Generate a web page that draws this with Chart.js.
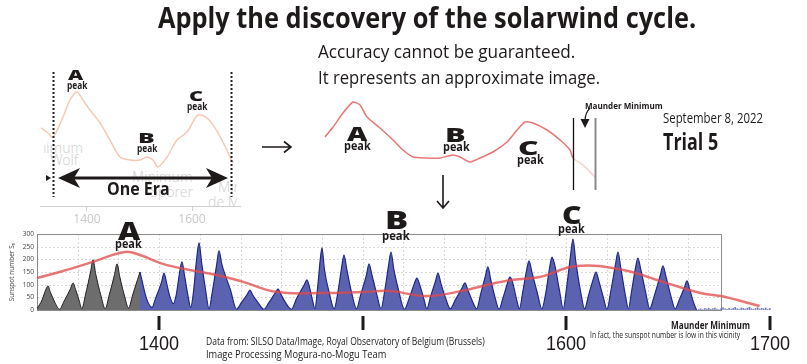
<!DOCTYPE html>
<html>
<head>
<meta charset="utf-8">
<script src="https://cdn.jsdelivr.net/npm/chart.js@4"></script>
<style>
  body { margin: 0; width: 807px; height: 364px; position: relative; overflow: hidden; background: #fff; color: #1e1a1a; font-family: "Open Sans", sans-serif; }
  canvas { position: absolute; }
  .t { position: absolute; white-space: nowrap; line-height: 1; transform-origin: left top; }
  #faint { position: absolute; left: 44px; top: 130px; width: 193px; height: 80px; overflow: hidden; }
  #faint div { position: absolute; white-space: nowrap; line-height: 1; color: #d3d3d3; font-size: 14px; font-family: "Noto Sans", sans-serif; font-weight: 300; }
  svg { position: absolute; left: 0; top: 0; }
</style>
</head>
<body>
<div id="faint">
  <div style="right:154px; top:10.6px">Minimum</div>
  <div style="left:6px; top:22.6px">Wolf</div>
  <div style="left:88px; top:39.6px">Minimum</div>
  <div style="right:44px; top:54.6px">Spörer</div>
  <div style="left:174px; top:49.6px">Minimum</div>
  <div style="left:164px; top:64.6px">de Maunder</div>
</div>
<canvas id="eraChart" width="215" height="170" style="left:30px; top:60px"></canvas>
<canvas id="windChart" width="290" height="110" style="left:315px; top:90px"></canvas>
<canvas id="sunChart" width="807" height="139" style="left:0; top:225px"></canvas>
<svg width="807" height="364">
  <g stroke="#1e1a1a" fill="none" stroke-width="1.6">
    <path d="M262 147 H291 M284 141.5 L291 147 L284 152.5"/>
    <path d="M443 175 V208 M437 201 L443 208 L449 201"/>
    <path d="M62 178 H224" stroke-width="3"/>
    <path d="M590 108 Q585 113 585 121" stroke-width="1.2"/>
  </g>
  <g fill="#1e1a1a">
    <path d="M58 178 L80 168 L74 178 L80 188 Z"/>
    <path d="M228 178 L206 168 L212 178 L206 188 Z"/>
    <path d="M46 175 L51 178 L46 181 Z"/>
    <path d="M580.5 119 L585 128 L589.5 119 Z"/>
  </g>
</svg>
<script>
// bottom panel: sunspot number
const greyYears = [
  1340, 1342.5, 1344.2, 1345.4, 1346.6, 1348.8,
  1351, 1353.3, 1356.5, 1357.7, 1359, 1360.8,
  1362, 1363.8, 1366.3, 1367.5, 1368.9, 1371.3,
  1373.5, 1375.5, 1378.1, 1379.3, 1380.7, 1383,
  1385, 1387, 1389.4, 1390.6
];
const greyValues = [
  5, 40, 78, 95, 70, 30,
  3, 35, 85, 107, 80, 35,
  5, 60, 150, 198, 140, 60,
  5, 60, 140, 182, 130, 55,
  8, 60, 120, 150
];

const blueYears = [
  1390.6, 1391.9, 1393.6,
  1396.5, 1398.2, 1401.2, 1402.4, 1403.7, 1405.4,
  1407, 1408.4, 1410, 1411.2, 1412.5, 1414.2,
  1415.5, 1417, 1418.4, 1419.6, 1420.9, 1422.8,
  1424.5, 1426.2, 1428.2, 1429.4, 1430.8, 1432.8, 1435,
  1438, 1440.5, 1443.3, 1444.6, 1445.9, 1448.5,
  1451.5, 1454, 1457.1, 1458.4, 1459.8, 1462,
  1465, 1467.5, 1471.3, 1472.6, 1474, 1475.3,
  1476.5, 1478, 1479.1, 1480, 1481.2, 1483.5,
  1486, 1487.8, 1489.6, 1490.8, 1492.2, 1494.5,
  1497, 1499, 1501.9, 1503.1, 1504.5, 1506.8,
  1509, 1510.8, 1512.7, 1513.9, 1515.3, 1517.7,
  1520.5, 1522.8, 1525.4, 1526.6, 1528, 1530,
  1531.5, 1533.4, 1535.8, 1537, 1538.4, 1540.8,
  1543, 1545.5, 1549, 1550.2, 1551.6, 1553.9,
  1556, 1558, 1560.3, 1561.5, 1562.9, 1565,
  1567, 1569, 1571.1, 1572.3, 1573.6, 1575.5,
  1577, 1578.7, 1580.5, 1581.7, 1583.1, 1585.7,
  1588, 1590, 1591.8, 1593, 1594.4, 1596.6,
  1598.5, 1600.2, 1602.1, 1603.3, 1604.7, 1607,
  1609, 1611, 1613.4, 1614.6, 1616, 1618.2,
  1620, 1621.9, 1624.2, 1625.4, 1626.8, 1629,
  1630.5, 1632.2, 1634, 1635.2, 1636.6, 1639,
  1641, 1643.2, 1646.3, 1647.5, 1648.9, 1651.4,
  1653.5, 1655.5, 1658.1, 1659.3, 1660.7, 1662.5,
  1664
];
const blueValues = [
  150, 105, 50,
  10, 45, 110, 146, 105, 50,
  25, 60, 145, 190, 135, 55,
  10, 80, 200, 265, 185, 80,
  5, 75, 175, 233, 180, 130, 80,
  3, 30, 62, 79, 60, 30,
  3, 30, 68, 83, 62, 30,
  3, 45, 100, 119, 85, 40,
  5, 100, 195, 245, 160, 70,
  5, 70, 165, 217, 160, 70,
  5, 60, 140, 182, 140, 65,
  5, 75, 175, 229, 160, 75,
  3, 45, 105, 126, 100, 45,
  5, 55, 115, 146, 105, 45,
  5, 40, 90, 107, 80, 35,
  5, 65, 135, 170, 120, 50,
  3, 50, 105, 130, 110, 45,
  5, 75, 155, 194, 150, 70,
  5, 70, 165, 209, 175, 80,
  5, 90, 215, 280, 190, 75,
  5, 60, 125, 150, 115, 50,
  3, 75, 180, 229, 165, 60,
  5, 80, 165, 205, 160, 70,
  5, 55, 140, 174, 135, 55,
  5, 40, 90, 115, 80, 30,
  0
];

// smoothed (red) curve
const redYears = [1340, 1352.8, 1367.5, 1383.2, 1390.6, 1401.8, 1415, 1428.4, 1441.2, 1457.9, 1480, 1500, 1513.4, 1531.5, 1551, 1561, 1574, 1587, 1605, 1628, 1649, 1666, 1676, 1695];
const redValues = [126, 154, 190, 229, 217, 182, 158, 138, 111, 71, 67, 71, 75, 55, 79, 99, 119, 130, 174, 158, 107, 67, 55, 16];

// Maunder minimum, the tiny counts
const maunderYears = [1665, 1666, 1667, 1668, 1669, 1670, 1671, 1672, 1673, 1674, 1675, 1676, 1677, 1678, 1679, 1680, 1681, 1682, 1683, 1684, 1685, 1686, 1687, 1688, 1689, 1690, 1691, 1692, 1693, 1694, 1695, 1696, 1697, 1698, 1699, 1700];
const maunderValues = [3, 5, 2, 6, 4, 7, 3, 5, 8, 4, 2, 6, 9, 5, 3, 7, 4, 6, 10, 5, 3, 8, 6, 4, 7, 11, 5, 3, 6, 9, 4, 7, 5, 8, 3, 6];

const axisYears = [1400, 1500, 1600, 1700];
const axisLabels = ['1400', '', '1600', '1700'];

// top left panel: one era (old solar wind picture)
const eraYears = [1312.4, 1323.8, 1335.2, 1354.3, 1367.6, 1381, 1392.4, 1405.7, 1424.8, 1443.8, 1462.9, 1481.9, 1501, 1514.3, 1525.7, 1535.2, 1552.4, 1571.4, 1590.5, 1601.9, 1611.4, 1628.6, 1640, 1657.1, 1672.4, 1678.1];
const eraValues = [57.4, 54.4, 50.7, 65.4, 77.9, 83.8, 77.9, 70.6, 61, 48.5, 36, 33.8, 33.8, 36, 33.8, 28.7, 36, 48.5, 54.4, 61.8, 66.9, 64.7, 59.6, 48.5, 36, 31.6];
const eraTicks = [1400, 1600];
const eraBounds = [1334.7, 1674.3];

// middle panel: approximate solar wind cycle
const windYears = [1343.6, 1354.3, 1367.6, 1381, 1390.4, 1399.7, 1417.1, 1434.5, 1447.9, 1461.2, 1480, 1497.3, 1514.7, 1524.1, 1537.4, 1550.8, 1568.2, 1586.9, 1600.3, 1611, 1621.7, 1640.4, 1657.8, 1671.2, 1675.1, 1688.5, 1704.6];
const windValues = [53, 63, 77, 88, 85, 73, 62, 50, 40, 33, 32, 32, 35, 33, 28, 32, 38, 48, 60, 68, 67, 60, 50, 40, 32, 25, 13];
const maunderBounds = [1675.1, 1704.6];

const pts = (xs, ys) => xs.map((x, i) => ({ x, y: ys[i] }));

Chart.defaults.font.family = '"Open Sans", sans-serif';
Chart.defaults.animation = false;
Chart.defaults.plugins.legend.display = false;
Chart.defaults.plugins.tooltip.enabled = false;
Chart.defaults.events = [];

// ---- top left
const eraLines = {
  id: 'eraLines',
  afterDatasetsDraw(chart) {
    const { ctx, chartArea, scales: { x } } = chart;
    ctx.save();
    ctx.strokeStyle = '#222';
    ctx.lineWidth = 2;
    ctx.setLineDash([2, 2]);
    eraBounds.forEach(v => {
      const px = Math.round(x.getPixelForValue(v)) + 0.5;
      ctx.beginPath();
      ctx.moveTo(px, chartArea.top + 2);
      ctx.lineTo(px, chartArea.bottom - 9);
      ctx.stroke();
    });
    ctx.restore();
  }
};

new Chart(document.getElementById('eraChart'), {
  type: 'line',
  data: {
    datasets: [{
      data: pts(eraYears, eraValues),
      borderColor: '#f6c8b6',
      borderWidth: 1.5,
      pointRadius: 0,
      tension: 0.3
    }]
  },
  options: {
    responsive: false,
    layout: { padding: { left: 10, right: 5, top: 10, bottom: 0 } },
    scales: {
      x: {
        type: 'linear', min: 1310.5, max: 1691.4,
        afterBuildTicks: s => { s.ticks = eraTicks.map(v => ({ value: v })); },
        afterFit: s => { s.height = 24; },
        border: { color: '#cfcfcf' },
        grid: { drawOnChartArea: false, tickLength: 5, color: '#cfcfcf' },
        ticks: { color: '#c8c8c8', font: { size: 12 }, padding: 1, callback: v => String(v) }
      },
      y: { display: false, min: 0, max: 100 }
    }
  },
  plugins: [eraLines]
});

// ---- middle
const maunderLines = {
  id: 'maunderLines',
  afterDatasetsDraw(chart) {
    const { ctx, scales: { x, y } } = chart;
    ctx.save();
    maunderBounds.forEach((v, i) => {
      const px = Math.round(x.getPixelForValue(v)) + 0.5;
      ctx.strokeStyle = i === 0 ? '#111' : '#8a8a8a';
      ctx.lineWidth = i === 0 ? 1.3 : 2;
      ctx.beginPath();
      ctx.moveTo(px, y.getPixelForValue(72));
      ctx.lineTo(px, y.getPixelForValue(0));
      ctx.stroke();
    });
    ctx.restore();
  }
};

new Chart(document.getElementById('windChart'), {
  type: 'line',
  data: {
    datasets: [{
      data: pts(windYears, windValues),
      borderColor: '#e97676',
      borderWidth: 1.5,
      pointRadius: 0,
      tension: 0.2,
      segment: { borderColor: c => c.p0.parsed.x >= maunderBounds[0] ? 'rgba(240,165,165,0.55)' : undefined }
    }]
  },
  options: {
    responsive: false,
    layout: { padding: { bottom: 10 } },
    scales: {
      x: { type: 'linear', display: false, min: 1330.2, max: 1717.9 },
      y: { display: false, min: 0, max: 100 }
    }
  },
  plugins: [maunderLines]
});

// ---- bottom: sunspot record
const plotBox = {
  id: 'plotBox',
  beforeDatasetsDraw(chart) {
    const { ctx, scales: { x, y } } = chart;
    const l = x.getPixelForValue(1340), r = x.getPixelForValue(1676);
    const t = y.getPixelForValue(300), b = y.getPixelForValue(0);
    ctx.save();
    ctx.lineWidth = 1;
    ctx.strokeStyle = '#d8d8d8';
    ctx.setLineDash([2, 2]);
    for (let v = 50; v < 300; v += 50) {
      const py = Math.round(y.getPixelForValue(v)) + 0.5;
      ctx.beginPath(); ctx.moveTo(l, py); ctx.lineTo(r, py); ctx.stroke();
    }
    for (let yr = 1360; yr < 1676; yr += 20) {
      const px = Math.round(x.getPixelForValue(yr)) + 0.5;
      ctx.beginPath(); ctx.moveTo(px, t); ctx.lineTo(px, b); ctx.stroke();
    }
    ctx.setLineDash([]);
    ctx.strokeStyle = '#8c8c8c';
    ctx.strokeRect(Math.round(l) + 0.5, Math.round(t) + 0.5, Math.round(r - l), Math.round(b - t));
    ctx.restore();
  },
  afterDraw(chart) {
    // century ticks and labels under the plot
    const { ctx, chartArea, scales: { x } } = chart;
    ctx.save();
    ctx.strokeStyle = '#1e1a1a';
    ctx.fillStyle = '#1e1a1a';
    ctx.lineWidth = 3;
    ctx.font = '21px "Liberation Sans", sans-serif';
    ctx.textAlign = 'center';
    ctx.textBaseline = 'alphabetic';
    axisYears.forEach((yr, i) => {
      const px = Math.round(x.getPixelForValue(yr));
      ctx.beginPath();
      ctx.moveTo(px, chartArea.bottom + 6);
      ctx.lineTo(px, chartArea.bottom + 20);
      ctx.stroke();
      ctx.save();
      ctx.translate(px, chartArea.bottom + 40);
      ctx.scale(0.86, 1);
      ctx.fillText(axisLabels[i], 0, 0);
      ctx.restore();
    });
    ctx.restore();
  }
};

new Chart(document.getElementById('sunChart'), {
  type: 'line',
  data: {
    datasets: [
      {
        data: pts(redYears, redValues),
        borderColor: 'rgba(226,72,72,0.75)',
        borderWidth: 2.5,
        pointRadius: 0,
        tension: 0.4,
        order: 0
      },
      {
        data: pts(greyYears, greyValues),
        borderColor: '#1f1f1f',
        backgroundColor: '#6d6d6d',
        borderWidth: 1,
        fill: 'origin',
        pointRadius: 0,
        cubicInterpolationMode: 'monotone',
        order: 2
      },
      {
        data: pts(blueYears, blueValues),
        borderColor: '#1d2788',
        backgroundColor: '#5b63b1',
        borderWidth: 1.2,
        fill: 'origin',
        pointRadius: 0,
        cubicInterpolationMode: 'monotone',
        order: 2
      },
      {
        type: 'bar',
        data: pts(maunderYears, maunderValues),
        backgroundColor: '#6e77b9',
        barThickness: 1,
        order: 1
      }
    ]
  },
  options: {
    responsive: false,
    layout: { padding: { left: 8, right: 27, top: 9, bottom: 0 } },
    scales: {
      x: {
        type: 'linear', min: 1340, max: 1705, offset: false,
        afterBuildTicks: s => { s.ticks = axisYears.map(v => ({ value: v })); },
        afterFit: s => { s.height = 54; },
        border: { display: false },
        grid: { display: false, offset: false },
        ticks: { display: false }
      },
      y: {
        min: 0, max: 300,
        afterFit: s => { s.width = 29; },
        border: { display: false },
        grid: { drawOnChartArea: false, drawTicks: false },
        ticks: { stepSize: 50, padding: 3, color: '#444', font: { size: 6.5 } },
        title: { display: true, text: 'Sunspot number Sₙ', color: '#444', font: { size: 6.5 }, padding: 0 }
      }
    }
  },
  plugins: [plotBox]
});

// ---- texts: [text, x, top, size, weight, width, anchor]
const notes = [
  ['Apply the discovery of the solarwind cycle.', 158, 3, 28, 700, 538, 'left'],
  ['Accuracy cannot be guaranteed.', 318, 42, 18, 400, 257, 'left'],
  ['It represents an approximate image.', 318, 67.5, 18, 400, 282, 'left'],
  ['September 8, 2022', 663, 110.5, 14, 400, 100, 'left'],
  ['Trial 5', 663, 131, 22.5, 700, 55, 'left'],
  ['Maunder Minimum', 585, 100.5, 9, 700, 78, 'left'],
  ['A', 75.5, 67.6, 14, 800, 15, 'center'],
  ['peak', 77, 80.3, 10, 700, 20, 'center'],
  ['B', 146, 130.6, 14, 800, 16, 'center'],
  ['peak', 147, 143.3, 10, 700, 20, 'center'],
  ['C', 196, 88.6, 14, 800, 14, 'center'],
  ['peak', 197, 101.3, 10, 700, 20, 'center'],
  ['One Era', 138.5, 178.9, 18, 700, 63, 'center'],
  ['A', 357.5, 123.5, 20, 800, 21, 'center'],
  ['peak', 357.5, 139.8, 12.5, 700, 27, 'center'],
  ['B', 455, 124.5, 20, 800, 20, 'center'],
  ['peak', 456.5, 140.8, 12.5, 700, 27, 'center'],
  ['C', 528, 138.5, 19, 800, 20, 'center'],
  ['peak', 530.5, 153.8, 12.5, 700, 27, 'center'],
  ['A', 129, 217.6, 25, 800, 22, 'center'],
  ['peak', 128.5, 237.8, 12.5, 700, 27, 'center'],
  ['B', 396, 207.8, 24, 800, 23, 'center'],
  ['peak', 396, 229.8, 12.5, 700, 28, 'center'],
  ['C', 572, 202.8, 24, 800, 20, 'center'],
  ['peak', 571.5, 222.8, 12.5, 700, 27, 'center'],
  ['Data from: SILSO Data/Image, Royal Observatory of Belgium (Brussels)', 206, 335, 11, 400, 279, 'left'],
  ['Image Processing Mogura-no-Mogu Team', 206, 348, 11, 400, 180, 'left'],
  ['Maunder Minimum', 671, 319, 11, 700, 79, 'left'],
  ['In fact, the sunspot number is low in this vicinity', 590, 330, 9, 400, 150, 'left']
];

notes.forEach(([text, x, top, size, weight, width, anchor]) => {
  const el = document.createElement('div');
  el.className = 't';
  el.textContent = text;
  el.style.fontSize = size + 'px';
  el.style.fontWeight = weight;
  el.style.top = top + 'px';
  document.body.appendChild(el);
  const w0 = el.offsetWidth;
  const w = width || w0;
  if (width) el.style.transform = 'scaleX(' + (width / w0) + ')';
  el.style.left = (anchor === 'center' ? x - w / 2 : x) + 'px';
});
</script>
</body>
</html>
